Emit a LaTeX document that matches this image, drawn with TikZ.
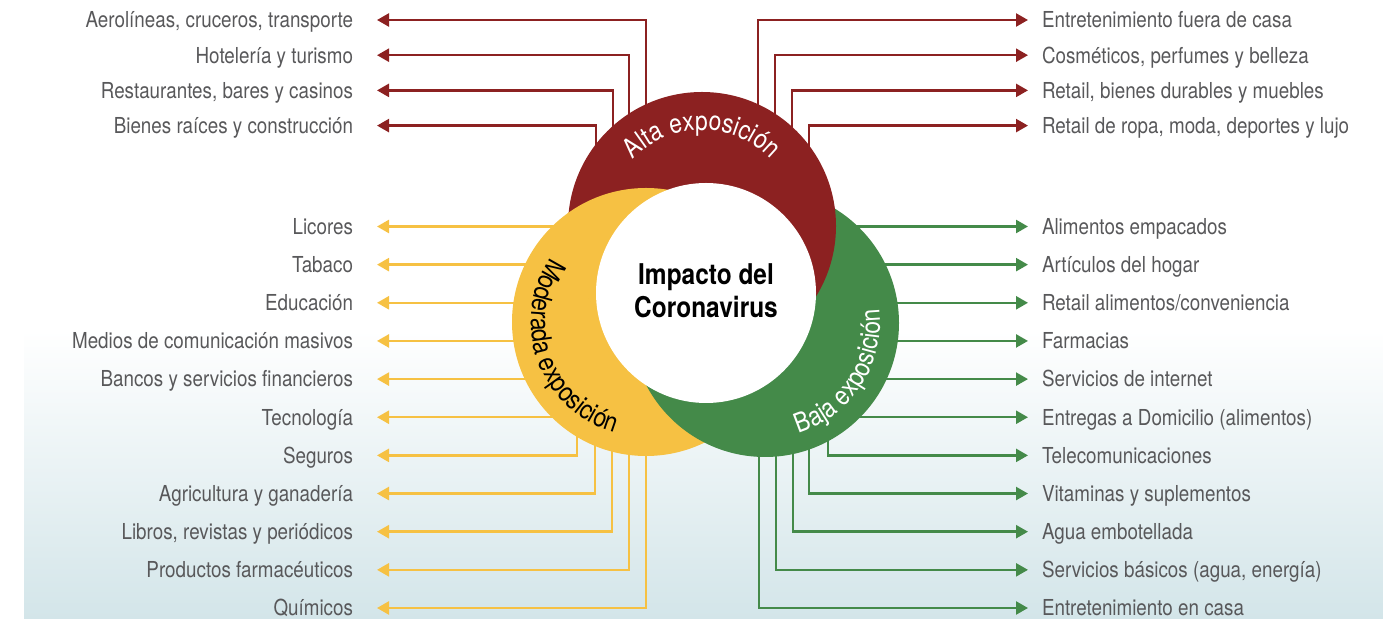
\documentclass[tikz,border=0pt]{standalone}
\usepackage{fontspec}
\setmainfont{TeX Gyre Heros}[FakeStretch=0.855]
\usetikzlibrary{calc, arrows.meta, decorations.text}

\definecolor{rojoAlta}{HTML}{8C2121}
\definecolor{amarilloMod}{HTML}{F6C143}
\definecolor{verdeBaja}{HTML}{448A49}
\definecolor{grisTexto}{HTML}{58585A}
\definecolor{fondoAzul}{HTML}{D3E5E9}

\newcommand\expofont{\fontsize{13.4}{16}\selectfont}

\begin{document}
\begin{tikzpicture}[x=0.5pt, y=-0.5pt, font=\fontsize{11}{13}\selectfont,
  lbl/.style={text=grisTexto, inner sep=0pt, text height=7.9pt, text depth=0pt},
  lblL/.style={lbl, anchor=east, outer xsep=12pt},
  lblR/.style={lbl, anchor=west, outer xsep=7pt},
  arr/.style={line width=1.2pt, -{Triangle[length=6pt, width=6.5pt]}}]
  \useasboundingbox (0,0) rectangle (1383,619);
  \shade[top color=white, bottom color=fondoAzul] (24,330) rectangle (1383,619);

  % centros de los circulos
  \coordinate (alta) at (702,226);
  \coordinate (moderada) at (646,322);
  \coordinate (baja) at (765,323);
  \coordinate (centro) at (706,293);

  % etiquetas
  \foreach \t [count=\i from 0] in {{Aerolíneas, cruceros, transporte},
    Hotelería y turismo, {Restaurantes, bares y casinos},
    Bienes raíces y construcción}
    \node[lblL] (aL\i) at (377,{20+35.2*\i}) {\t};
  \foreach \t [count=\i from 0] in {Entretenimiento fuera de casa,
    {Cosméticos, perfumes y belleza}, {Retail, bienes durables y muebles},
    {Retail de ropa, moda, deportes y lujo}}
    \node[lblR] (aR\i) at (1028,{20+35.2*\i}) {\t};
  \foreach \t [count=\i from 0] in {Licores, Tabaco, Educación,
    Medios de comunicación masivos, Bancos y servicios financieros,
    Tecnología, Seguros, Agricultura y ganadería,
    {Libros, revistas y periódicos}, Productos farmacéuticos, Químicos}
    \node[lblL] (mL\i) at (377,{226.5+38.15*\i}) {\t};
  \foreach \t [count=\i from 0] in {Alimentos empacados, Artículos del hogar,
    {Retail alimentos/conveniencia}, Farmacias, Servicios de internet,
    Entregas a Domicilio (alimentos), Telecomunicaciones,
    Vitaminas y suplementos, Agua embotellada,
    {Servicios básicos (agua, energía)}, Entretenimiento en casa}
    \node[lblR] (bR\i) at (1028,{226.5+38.15*\i}) {\t};

  % conectores
  \foreach \dx [count=\i from 0] in {-56,-73,-89,-106}
    \draw[arr, rojoAlta] ($(alta)+(\dx,-26)$) |- (aL\i.east);
  \foreach \dx [count=\i from 0] in {56,73,90,107}
    \draw[arr, rojoAlta] ($(alta)+(\dx,-26)$) |- (aR\i.west);
  \foreach \i in {0,...,5}
    \draw[arr, amarilloMod] (moderada |- mL\i.east) -- (mL\i.east);
  \foreach \dx [count=\i from 6] in {-69,-51,-34,-17,0}
    \draw[arr, amarilloMod] ($(moderada)+(\dx,60)$) |- (mL\i.east);
  \foreach \i in {0,...,5}
    \draw[arr, verdeBaja] (baja |- bR\i.west) -- (bR\i.west);
  \foreach \dx [count=\i from 6] in {63,44,28,11,-6}
    \draw[arr, verdeBaja] ($(baja)+(\dx,60)$) |- (bR\i.west);

  % circulos
  \fill[amarilloMod] (moderada) circle[radius=67pt];
  \fill[verdeBaja] (baja) circle[radius=67pt];
  \fill[rojoAlta] (alta) circle[radius=67pt];
  \begin{scope}
    \clip (alta) circle[radius=67.5pt];
    \fill[amarilloMod] (moderada) circle[radius=67pt];
  \end{scope}
  \fill[white] (centro) circle[radius=55pt];

  % textos en arco
  \path[decorate, decoration={text along path, text align=center,
    text color=white, text={|\expofont|Alta exposición}}]
    ($(alta)+(180:48pt)$) arc[start angle=180, end angle=0, radius=48pt];
  \path[decorate, decoration={text along path, text align=center,
    text color=black, text={|\expofont|Moderada exposición}}]
    ($(moderada)+(110:57.5pt)$) arc[start angle=110, end angle=290, radius=57.5pt];
  \path[decorate, decoration={text along path, text align=center,
    text color=white, text={|\expofont|Baja exposición}}]
    ($(baja)+(237:57.5pt)$) arc[start angle=237, end angle=417, radius=57.5pt];

  \node[font=\bfseries\fontsize{14.3}{16.5}\selectfont, align=center]
    (impacto) at (706,291) {Impacto del\\Coronavirus};
\end{tikzpicture}
\end{document}
